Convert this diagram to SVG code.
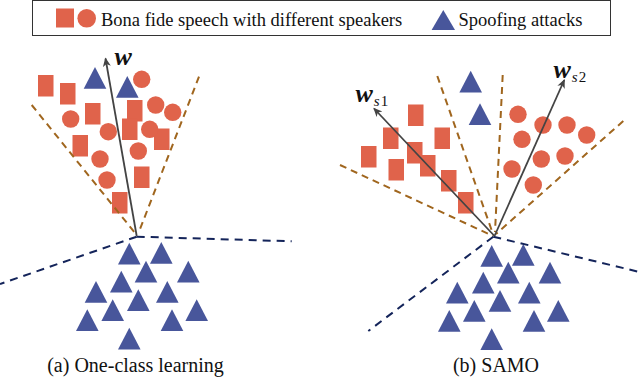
<svg xmlns="http://www.w3.org/2000/svg" xmlns:xlink="http://www.w3.org/1999/xlink" width="640" height="379" viewBox="0 0 640 379">
<defs>
<style>
.bf{fill:#E0634B}
.sp{fill:#48569B}
.bd{fill:none;stroke:#A0661E;stroke-width:2;stroke-dasharray:7,5}
.nd{fill:none;stroke:#14245A;stroke-width:2;stroke-dasharray:8,6}
.ar{fill:none;stroke:#444;stroke-width:1.8;marker-end:url(#ah)}
.t{font-family:"Liberation Serif","Times New Roman",serif;fill:#111}
.m{font-family:"Liberation Serif","Times New Roman",serif;font-style:italic;font-weight:bold;fill:#111}
</style>
<marker id="ah" markerWidth="10" markerHeight="10" refX="8" refY="5" orient="auto" markerUnits="userSpaceOnUse">
<path d="M0,1 L9,5 L0,9 L2.5,5 Z" fill="#444"/>
</marker>
<path id="tri" d="M0,0 L11.3,21.7 L-11.3,21.7 Z"/>
<rect id="sq" width="15.5" height="21.5"/>
</defs>

<g id="legend">
<rect x="32.5" y="0.5" width="578" height="35" fill="#fff" stroke="#333" stroke-width="1"/>
<rect class="bf" x="56" y="8.5" width="18" height="19"/>
<circle class="bf" cx="86.7" cy="18.3" r="9.3"/>
<text class="t" x="101" y="26" font-size="18.5">Bona fide speech with different speakers</text>
<path class="sp" d="M443.3,10 L455,30 L431.6,30 Z"/>
<text class="t" x="458.5" y="26" font-size="18.5">Spoofing attacks</text>
</g>

<g id="panel-a">
<g id="a-bonafide" class="bf">
<use href="#sq" x="38" y="75"/>
<use href="#sq" x="60" y="83"/>
<use href="#sq" x="85" y="103"/>
<use href="#sq" x="127" y="100"/>
<use href="#sq" x="122" y="118.5"/>
<use href="#sq" x="154" y="128.5"/>
<use href="#sq" x="72.5" y="135"/>
<use href="#sq" x="134" y="166.5"/>
<use href="#sq" x="112" y="192"/>
<circle cx="141.7" cy="79.3" r="8.7"/>
<circle cx="155.7" cy="105" r="8.7"/>
<circle cx="172.7" cy="112.3" r="8.7"/>
<circle cx="70.7" cy="119" r="8.7"/>
<circle cx="108.3" cy="131.7" r="8.7"/>
<circle cx="149.7" cy="129.3" r="8.7"/>
<circle cx="138.3" cy="151" r="8.7"/>
<circle cx="100" cy="159" r="8.7"/>
<circle cx="107" cy="180" r="8.7"/>
</g>
<g id="a-spoof" class="sp">
<use href="#tri" x="95" y="67"/>
<use href="#tri" x="127.3" y="76"/>
<use href="#tri" x="129.3" y="242.7"/>
<use href="#tri" x="161.3" y="242"/>
<use href="#tri" x="146" y="260.7"/>
<use href="#tri" x="188.3" y="260.7"/>
<use href="#tri" x="121.3" y="270.7"/>
<use href="#tri" x="96" y="281"/>
<use href="#tri" x="138.3" y="289.3"/>
<use href="#tri" x="167.3" y="281"/>
<use href="#tri" x="112.7" y="299.3"/>
<use href="#tri" x="196.7" y="299.3"/>
<use href="#tri" x="87.3" y="309.3"/>
<use href="#tri" x="172" y="309.3"/>
<use href="#tri" x="129.3" y="327.7"/>
</g>
<text class="m" x="114.5" y="64.5" font-size="26">w</text>
<text class="t" x="135.5" y="372" font-size="20" text-anchor="middle">(a) One-class learning</text>
</g>

<g id="panel-b">
<g id="b-bonafide" class="bf">
<use href="#sq" x="408" y="104.5"/>
<use href="#sq" x="383" y="127.5"/>
<use href="#sq" x="434.5" y="127.5"/>
<use href="#sq" x="361" y="146"/>
<use href="#sq" x="407" y="142"/>
<use href="#sq" x="420" y="155"/>
<use href="#sq" x="388.5" y="159"/>
<use href="#sq" x="441" y="170"/>
<use href="#sq" x="458" y="192"/>
<circle cx="518" cy="114.3" r="8.7"/>
<circle cx="543" cy="125" r="8.7"/>
<circle cx="567" cy="125" r="8.7"/>
<circle cx="586.7" cy="135" r="8.7"/>
<circle cx="522" cy="139.3" r="8.7"/>
<circle cx="541.3" cy="159" r="8.7"/>
<circle cx="565" cy="156" r="8.7"/>
<circle cx="512" cy="169" r="8.7"/>
<circle cx="533.3" cy="185" r="8.7"/>
</g>
<g id="b-spoof" class="sp">
<use href="#tri" x="470.7" y="70.7"/>
<use href="#tri" x="480" y="103.3"/>
<use href="#tri" x="491.7" y="245"/>
<use href="#tri" x="523.3" y="244"/>
<use href="#tri" x="508.3" y="261.7"/>
<use href="#tri" x="550" y="261.7"/>
<use href="#tri" x="483.3" y="271.7"/>
<use href="#tri" x="457.3" y="281.7"/>
<use href="#tri" x="500" y="290"/>
<use href="#tri" x="529.3" y="281.7"/>
<use href="#tri" x="474.3" y="300"/>
<use href="#tri" x="558.3" y="300"/>
<use href="#tri" x="449.3" y="310"/>
<use href="#tri" x="534" y="310"/>
<use href="#tri" x="491.7" y="328.3"/>
</g>
<text class="m" x="355.5" y="101.5" font-size="26">w<tspan font-size="15" font-weight="normal" dx="1" dy="4">s</tspan><tspan font-size="15" font-style="normal" font-weight="normal" dx="1">1</tspan></text>
<text class="m" x="553.5" y="77.5" font-size="26">w<tspan font-size="15" font-weight="normal" dx="1" dy="4">s</tspan><tspan font-size="15" font-style="normal" font-weight="normal" dx="1">2</tspan></text>
<text class="t" x="496" y="372" font-size="20" text-anchor="middle">(b) SAMO</text>
</g>

<g id="connectors">
<path class="bd" d="M31.7,105 L136.7,235"/>
<path class="bd" d="M199,76.7 L138.5,233"/>
<path class="nd" d="M136.7,236.7 L291.7,241.3"/>
<path class="nd" d="M136.7,236.7 L0,284"/>
<path class="ar" d="M136.7,236 L105.5,58.5"/>

<path class="bd" d="M340,165 L493,236"/>
<path class="bd" d="M437.3,76 L493,234"/>
<path class="bd" d="M502.7,75 L495,232"/>
<path class="bd" d="M623.3,121 L496,234"/>
<path class="nd" d="M493.3,236.7 L638.3,271.7"/>
<path class="nd" d="M493.3,236.7 L368.3,331"/>
<path class="ar" d="M494.5,236 L374,108.5"/>
<path class="ar" d="M494.5,236 L564.3,80"/>
</g>
</svg>
